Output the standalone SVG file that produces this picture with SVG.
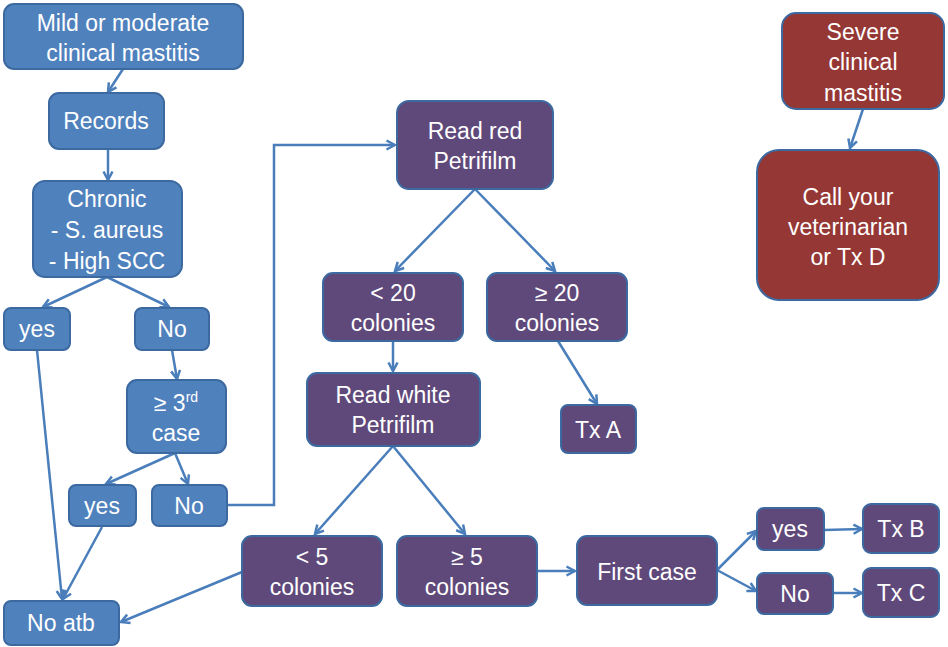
<svg xmlns="http://www.w3.org/2000/svg" width="948" height="647" viewBox="0 0 948 647">
<style>
.b{fill:#4f81bd;stroke:#3b69a0;stroke-width:2}
.p{fill:#5f497a;stroke:#3b69a0;stroke-width:2}
.r{fill:#953735;stroke:#3b69a0;stroke-width:2}
text{font-family:"Liberation Sans",Arial,sans-serif;font-size:23px;fill:#fff;text-anchor:middle}
.c line,.c polyline{stroke:#4a7ebb;stroke-width:2.5;fill:none;marker-end:url(#ah)}
</style>
<defs>
<marker id="ah" viewBox="0 0 12 12" refX="10.5" refY="6" markerWidth="12" markerHeight="12" markerUnits="userSpaceOnUse" orient="auto">
<path d="M2,1.5 L10.5,6 L2,10.5" fill="none" stroke="#4a7ebb" stroke-width="2.5"/>
</marker>
</defs>
<rect width="948" height="647" fill="#fff"/>
<g class="c" id="connectors">
<line x1="123" y1="69" x2="108" y2="92"/>
<line x1="108" y1="149" x2="108" y2="180"/>
<line x1="107" y1="277" x2="43" y2="307"/>
<line x1="107" y1="277" x2="169" y2="307"/>
<line x1="172" y1="350" x2="177" y2="379"/>
<line x1="175" y1="453" x2="106" y2="484"/>
<line x1="175" y1="453" x2="188" y2="484"/>
<line x1="37" y1="350" x2="62" y2="599"/>
<line x1="102" y1="527" x2="63" y2="599"/>
<line x1="242" y1="572" x2="121" y2="622"/>
<polyline points="227,505 274,505 274,145 395,145"/>
<line x1="475" y1="189" x2="395" y2="271"/>
<line x1="475" y1="189" x2="555" y2="271"/>
<line x1="393" y1="341" x2="393" y2="371"/>
<line x1="558" y1="341" x2="597" y2="404"/>
<line x1="393" y1="446" x2="315" y2="534"/>
<line x1="393" y1="446" x2="465" y2="534"/>
<line x1="537" y1="571" x2="575" y2="571"/>
<line x1="717" y1="570" x2="756" y2="531"/>
<line x1="717" y1="570" x2="756" y2="591"/>
<line x1="824" y1="530" x2="862" y2="529"/>
<line x1="833" y1="593" x2="862" y2="593"/>
<line x1="863" y1="109" x2="850" y2="148"/>
</g>
<g id="n_mild"><rect class="b" x="4" y="4" width="239" height="65" rx="10"/><text x="123" y="31">Mild or moderate</text><text x="123" y="61">clinical mastitis</text></g>
<g id="n_records"><rect class="b" x="49" y="93" width="115" height="56" rx="10"/><text x="106" y="129">Records</text></g>
<g id="n_chronic"><rect class="b" x="33" y="181" width="149" height="96" rx="12"/><text x="107" y="207">Chronic</text><text x="107" y="238">- S. aureus</text><text x="107" y="269">- High SCC</text></g>
<g id="n_yes1"><rect class="b" x="4" y="308" width="66" height="42" rx="7"/><text x="37" y="337">yes</text></g>
<g id="n_no1"><rect class="b" x="135" y="308" width="74" height="42" rx="7"/><text x="172" y="337">No</text></g>
<g id="n_third"><rect class="b" x="127" y="380" width="99" height="73" rx="10"/><text x="176" y="411">≥ 3<tspan font-size="14" dy="-9">rd</tspan></text><text x="176" y="441">case</text></g>
<g id="n_yes2"><rect class="b" x="69" y="485" width="67" height="41" rx="7"/><text x="102" y="514">yes</text></g>
<g id="n_no2"><rect class="b" x="152" y="485" width="75" height="41" rx="7"/><text x="189" y="514">No</text></g>
<g id="n_noatb"><rect class="b" x="4" y="601" width="115" height="44" rx="7"/><text x="61" y="631">No atb</text></g>
<g id="n_red"><rect class="p" x="397" y="101" width="156" height="88" rx="12"/><text x="475" y="139">Read red</text><text x="475" y="169">Petrifilm</text></g>
<g id="n_lt20"><rect class="p" x="323" y="273" width="140" height="68" rx="10"/><text x="393" y="301">&lt; 20</text><text x="393" y="331">colonies</text></g>
<g id="n_ge20"><rect class="p" x="487" y="273" width="140" height="68" rx="10"/><text x="557" y="301">≥ 20</text><text x="557" y="331">colonies</text></g>
<g id="n_white"><rect class="p" x="307" y="373" width="173" height="73" rx="10"/><text x="393" y="403">Read white</text><text x="393" y="433">Petrifilm</text></g>
<g id="n_txa"><rect class="p" x="561" y="405" width="75" height="48" rx="7"/><text x="598" y="438">Tx A</text></g>
<g id="n_lt5"><rect class="p" x="242" y="536" width="140" height="70" rx="10"/><text x="312" y="565">&lt; 5</text><text x="312" y="595">colonies</text></g>
<g id="n_ge5"><rect class="p" x="397" y="536" width="140" height="70" rx="10"/><text x="467" y="565">≥ 5</text><text x="467" y="595">colonies</text></g>
<g id="n_first"><rect class="p" x="577" y="536" width="140" height="69" rx="10"/><text x="647" y="580">First case</text></g>
<g id="n_yes3"><rect class="p" x="757" y="508" width="67" height="42" rx="7"/><text x="790" y="537">yes</text></g>
<g id="n_no3"><rect class="p" x="757" y="573" width="76" height="41" rx="7"/><text x="795" y="602">No</text></g>
<g id="n_txb"><rect class="p" x="863" y="504" width="76" height="49" rx="8"/><text x="901" y="537">Tx B</text></g>
<g id="n_txc"><rect class="p" x="863" y="568" width="76" height="49" rx="8"/><text x="901" y="601">Tx C</text></g>
<g id="n_severe"><rect class="r" x="782" y="13" width="162" height="96" rx="14"/><text x="863" y="40">Severe</text><text x="863" y="70">clinical</text><text x="863" y="101">mastitis</text></g>
<g id="n_call"><rect class="r" x="757" y="150" width="182" height="150" rx="22"/><text x="848" y="205">Call your</text><text x="848" y="235">veterinarian</text><text x="848" y="265">or Tx D</text></g>
</svg>
